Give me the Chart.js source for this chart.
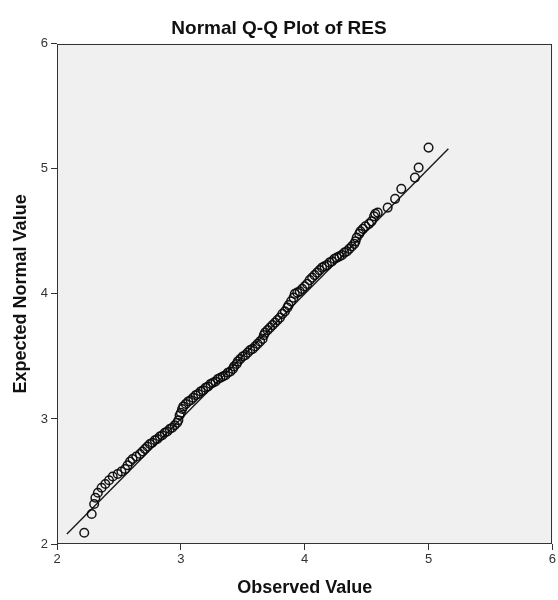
<!DOCTYPE html>
<html>
<head>
<meta charset="utf-8">
<script src="https://cdn.jsdelivr.net/npm/chart.js@4.4.1/dist/chart.umd.min.js"></script>
<style>
  body { margin: 0; background: #fff; }
  #qq { display: block; }
</style>
</head>
<body>
<canvas id="qq" width="558" height="600"></canvas>
<script>
// observed (x) and expected normal (y) values
const observed = [
  2.22, 2.28, 2.30, 2.31, 2.33, 2.36, 2.39, 2.42, 2.45, 2.49,
  2.52, 2.55, 2.57, 2.59, 2.61, 2.64, 2.67, 2.69, 2.71, 2.73,
  2.75, 2.77, 2.79, 2.81, 2.83, 2.85, 2.87, 2.89, 2.91, 2.93,
  2.95, 2.97, 2.98, 2.99, 3.00, 3.01, 3.02, 3.04, 3.06, 3.08,
  3.10, 3.12, 3.14, 3.16, 3.18, 3.20, 3.22, 3.24, 3.26, 3.28,
  3.30, 3.32, 3.34, 3.36, 3.38, 3.40, 3.42, 3.43, 3.45, 3.46,
  3.48, 3.50, 3.52, 3.54, 3.56, 3.58, 3.60, 3.62, 3.64, 3.66,
  3.67, 3.68, 3.70, 3.72, 3.74, 3.76, 3.78, 3.80, 3.82, 3.84,
  3.86, 3.87, 3.89, 3.91, 3.92, 3.94, 3.96, 3.98, 4.00, 4.02,
  4.04, 4.06, 4.08, 4.10, 4.12, 4.14, 4.16, 4.18, 4.20, 4.22,
  4.24, 4.26, 4.28, 4.30, 4.32, 4.34, 4.36, 4.38, 4.40, 4.41,
  4.42, 4.44, 4.45, 4.47, 4.49, 4.52, 4.54, 4.56, 4.57, 4.59,
  4.67, 4.73, 4.78, 4.89, 4.92, 5.00
];
const expected = [
  2.09, 2.24, 2.32, 2.37, 2.41, 2.45, 2.48, 2.51, 2.54, 2.56,
  2.58, 2.60, 2.63, 2.66, 2.68, 2.70, 2.72, 2.74, 2.76, 2.78,
  2.80, 2.81, 2.83, 2.84, 2.86, 2.87, 2.89, 2.90, 2.92, 2.93,
  2.95, 2.97, 2.99, 3.03, 3.05, 3.08, 3.10, 3.12, 3.14, 3.15,
  3.17, 3.19, 3.20, 3.22, 3.23, 3.25, 3.26, 3.28, 3.29, 3.30,
  3.32, 3.33, 3.34, 3.35, 3.37, 3.38, 3.40, 3.42, 3.44, 3.46,
  3.48, 3.50, 3.51, 3.53, 3.55, 3.56, 3.58, 3.60, 3.62, 3.64,
  3.67, 3.69, 3.71, 3.73, 3.75, 3.77, 3.79, 3.81, 3.84, 3.86,
  3.89, 3.91, 3.94, 3.97, 4.00, 4.01, 4.02, 4.04, 4.06, 4.08,
  4.11, 4.13, 4.15, 4.17, 4.19, 4.21, 4.22, 4.23, 4.25, 4.26,
  4.28, 4.29, 4.30, 4.31, 4.33, 4.34, 4.36, 4.38, 4.40, 4.42,
  4.45, 4.48, 4.50, 4.52, 4.54, 4.56, 4.58, 4.62, 4.64, 4.65,
  4.69, 4.76, 4.84, 4.93, 5.01, 5.17
];
// reference line y = x
const lineX = [2.08, 5.16];
const lineY = [2.08, 5.16];
const axisMin = 2, axisMax = 6;

const font = "'Liberation Sans', Arial, sans-serif";

const plotFrame = {
  id: 'plotFrame',
  beforeDraw(chart) {
    const { ctx, chartArea: a } = chart;
    ctx.save();
    ctx.fillStyle = '#f0f0f0';
    ctx.fillRect(a.left, a.top, a.width, a.height);
    ctx.restore();
  },
  afterDraw(chart) {
    const { ctx, chartArea: a } = chart;
    ctx.save();
    ctx.strokeStyle = '#333';
    ctx.lineWidth = 1;
    ctx.strokeRect(Math.round(a.left) + 0.5, Math.round(a.top) + 0.5,
      Math.round(a.width) - 1, Math.round(a.height) - 1);
    ctx.restore();
  }
};

const points = observed.map((x, i) => ({ x: x, y: expected[i] }));
const line = lineX.map((x, i) => ({ x: x, y: lineY[i] }));

const axisCommon = {
  type: 'linear',
  min: axisMin,
  max: axisMax,
  border: { display: false },
  grid: { drawOnChartArea: false, drawTicks: true, tickLength: 6, color: '#333', tickColor: '#333' },
};

new Chart(document.getElementById('qq'), {
  type: 'scatter',
  data: {
    datasets: [
      {
        data: points,
        pointStyle: 'circle',
        pointRadius: 4.3,
        pointBorderWidth: 1.5,
        borderColor: 'rgba(10,10,10,0.95)',
        backgroundColor: 'rgba(0,0,0,0)',
      },
      {
        type: 'line',
        data: line,
        borderColor: '#1a1a1a',
        borderWidth: 1.4,
        pointRadius: 0,
        fill: false,
      }
    ]
  },
  options: {
    responsive: false,
    animation: false,
    layout: { autoPadding: false, padding: { left: 0, right: 0, top: 0, bottom: 0 } },
    plugins: {
      legend: { display: false },
      tooltip: { enabled: false },
      title: {
        display: true,
        text: 'Normal Q-Q Plot of RES',
        color: '#111',
        font: { family: font, size: 19, weight: 'bold' },
        padding: { top: 17, bottom: 4 }
      }
    },
    scales: {
      x: Object.assign({}, axisCommon, {
        position: 'bottom',
        ticks: { stepSize: 1, padding: 2, color: '#333', font: { family: font, size: 13 } },
        title: {
          display: true,
          text: 'Observed Value',
          color: '#111',
          font: { family: font, size: 18, weight: 'bold' },
          padding: { top: 0, bottom: 1 }
        },
        afterFit: (s) => { s.height = 56; }
      }),
      y: Object.assign({}, axisCommon, {
        position: 'left',
        ticks: { stepSize: 1, padding: 3, color: '#333', font: { family: font, size: 13 } },
        title: {
          display: true,
          text: 'Expected Normal Value',
          color: '#111',
          font: { family: font, size: 18, weight: 'bold' },
          padding: { top: 10, bottom: 0 }
        },
        afterFit: (s) => { s.width = 57; }
      })
    }
  },
  plugins: [plotFrame]
});
</script>
</body>
</html>
